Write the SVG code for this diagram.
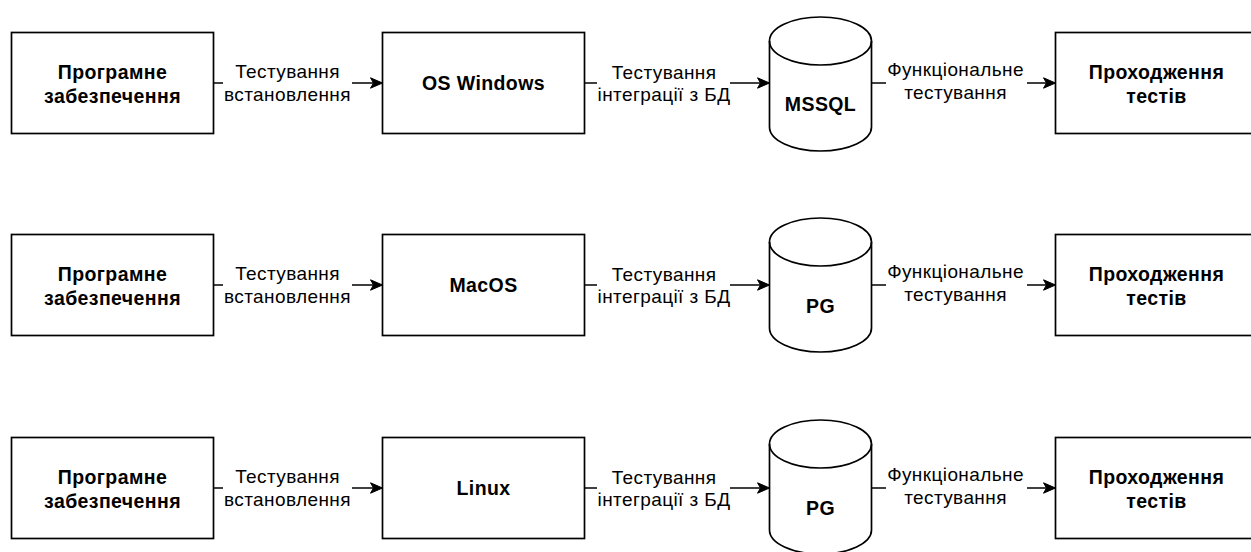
<svg xmlns="http://www.w3.org/2000/svg" width="1251" height="552" viewBox="0 0 1251 552">
<style>
.box{fill:#fff;stroke:#000;stroke-width:1.7}
.cyl{fill:#fff;stroke:#000;stroke-width:1.7}
.cyl2{fill:none;stroke:#000;stroke-width:1.7}
.nt{font-family:"Liberation Sans",Arial,sans-serif;font-size:19.5px;letter-spacing:0.4px;font-weight:bold;fill:#000;text-anchor:middle}
.et{font-family:"Liberation Sans",Arial,sans-serif;font-size:19px;letter-spacing:0.4px;fill:#000;text-anchor:middle}
.ln{fill:none;stroke:#000;stroke-width:1.7}
.bg{fill:#fff}
</style>
<defs>
<marker id="arr" markerUnits="userSpaceOnUse" viewBox="0 0 13 12" markerWidth="13" markerHeight="12" refX="4" refY="6" orient="auto">
<path d="M1,0.8 L13,6 L1,11.2 L4,6 Z" fill="#000" stroke="#000" stroke-width="1"/>
</marker>
<g id="cylshape">
<path class="cyl" d="M769.5,41 A51,24 0 0 1 871.5,41 L871.5,127 A51,24 0 0 1 769.5,127 Z"/>
<path class="cyl2" d="M769.5,41 A51,24 0 0 0 871.5,41"/>
</g>
</defs>
<rect width="1251" height="552" fill="#fff"/>

<g id="connectors">
<g id="r1-edges">
<path class="ln" d="M213.5,83 H373.5" marker-end="url(#arr)"/>
<rect class="bg" x="223" y="60" width="129" height="48"/>
<text class="et" x="287.5" y="78">Тестування</text>
<text class="et" x="287.5" y="101">встановлення</text>
<path class="ln" d="M584.5,83 H760.5" marker-end="url(#arr)"/>
<rect class="bg" x="597" y="60" width="133" height="48"/>
<text class="et" x="664" y="78.5">Тестування</text>
<text class="et" x="664" y="101">інтеграції з БД</text>
<path class="ln" d="M871.5,83 H1046.5" marker-end="url(#arr)"/>
<rect class="bg" x="886" y="57" width="141" height="48"/>
<text class="et" x="955.5" y="76">Функціональне</text>
<text class="et" x="955.5" y="98.5">тестування</text>
</g>
<g id="r2-edges" transform="translate(0,202)">
<path class="ln" d="M213.5,83 H373.5" marker-end="url(#arr)"/>
<rect class="bg" x="223" y="60" width="129" height="48"/>
<text class="et" x="287.5" y="78">Тестування</text>
<text class="et" x="287.5" y="101">встановлення</text>
<path class="ln" d="M584.5,83 H760.5" marker-end="url(#arr)"/>
<rect class="bg" x="597" y="60" width="133" height="48"/>
<text class="et" x="664" y="78.5">Тестування</text>
<text class="et" x="664" y="101">інтеграції з БД</text>
<path class="ln" d="M871.5,83 H1046.5" marker-end="url(#arr)"/>
<rect class="bg" x="886" y="57" width="141" height="48"/>
<text class="et" x="955.5" y="76">Функціональне</text>
<text class="et" x="955.5" y="98.5">тестування</text>
</g>
<g id="r3-edges" transform="translate(0,405)">
<path class="ln" d="M213.5,83 H373.5" marker-end="url(#arr)"/>
<rect class="bg" x="223" y="60" width="129" height="48"/>
<text class="et" x="287.5" y="78">Тестування</text>
<text class="et" x="287.5" y="101">встановлення</text>
<path class="ln" d="M584.5,83 H760.5" marker-end="url(#arr)"/>
<rect class="bg" x="597" y="60" width="133" height="48"/>
<text class="et" x="664" y="78.5">Тестування</text>
<text class="et" x="664" y="101">інтеграції з БД</text>
<path class="ln" d="M871.5,83 H1046.5" marker-end="url(#arr)"/>
<rect class="bg" x="886" y="57" width="141" height="48"/>
<text class="et" x="955.5" y="76">Функціональне</text>
<text class="et" x="955.5" y="98.5">тестування</text>
</g>
</g>

<g id="soft1">
<rect class="box" x="11.5" y="32.5" width="202" height="101"/>
<text class="nt" x="112.5" y="78.5">Програмне</text>
<text class="nt" x="112.5" y="102.5">забезпечення</text>
</g>
<g id="os-windows">
<rect class="box" x="382.5" y="32.5" width="202" height="101"/>
<text class="nt" x="483.5" y="89.5">OS Windows</text>
</g>
<g id="mssql">
<use href="#cylshape"/>
<text class="nt" x="820.5" y="110.5">MSSQL</text>
</g>
<g id="tests1">
<rect class="box" x="1055.5" y="32.5" width="202" height="101"/>
<text class="nt" x="1156.5" y="78.5">Проходження</text>
<text class="nt" x="1156.5" y="102.5">тестів</text>
</g>

<g id="soft2">
<rect class="box" x="11.5" y="234.5" width="202" height="101"/>
<text class="nt" x="112.5" y="280.5">Програмне</text>
<text class="nt" x="112.5" y="304.5">забезпечення</text>
</g>
<g id="macos">
<rect class="box" x="382.5" y="234.5" width="202" height="101"/>
<text class="nt" x="483.5" y="291.5">MacOS</text>
</g>
<g id="pg2">
<use href="#cylshape" transform="translate(0,201)"/>
<text class="nt" x="820.5" y="312.5">PG</text>
</g>
<g id="tests2">
<rect class="box" x="1055.5" y="234.5" width="202" height="101"/>
<text class="nt" x="1156.5" y="280.5">Проходження</text>
<text class="nt" x="1156.5" y="304.5">тестів</text>
</g>

<g id="soft3">
<rect class="box" x="11.5" y="437.5" width="202" height="101"/>
<text class="nt" x="112.5" y="483.5">Програмне</text>
<text class="nt" x="112.5" y="507.5">забезпечення</text>
</g>
<g id="linux">
<rect class="box" x="382.5" y="437.5" width="202" height="101"/>
<text class="nt" x="483.5" y="494.5">Linux</text>
</g>
<g id="pg3">
<use href="#cylshape" transform="translate(0,403)"/>
<text class="nt" x="820.5" y="514.5">PG</text>
</g>
<g id="tests3">
<rect class="box" x="1055.5" y="437.5" width="202" height="101"/>
<text class="nt" x="1156.5" y="483.5">Проходження</text>
<text class="nt" x="1156.5" y="507.5">тестів</text>
</g>
</svg>
